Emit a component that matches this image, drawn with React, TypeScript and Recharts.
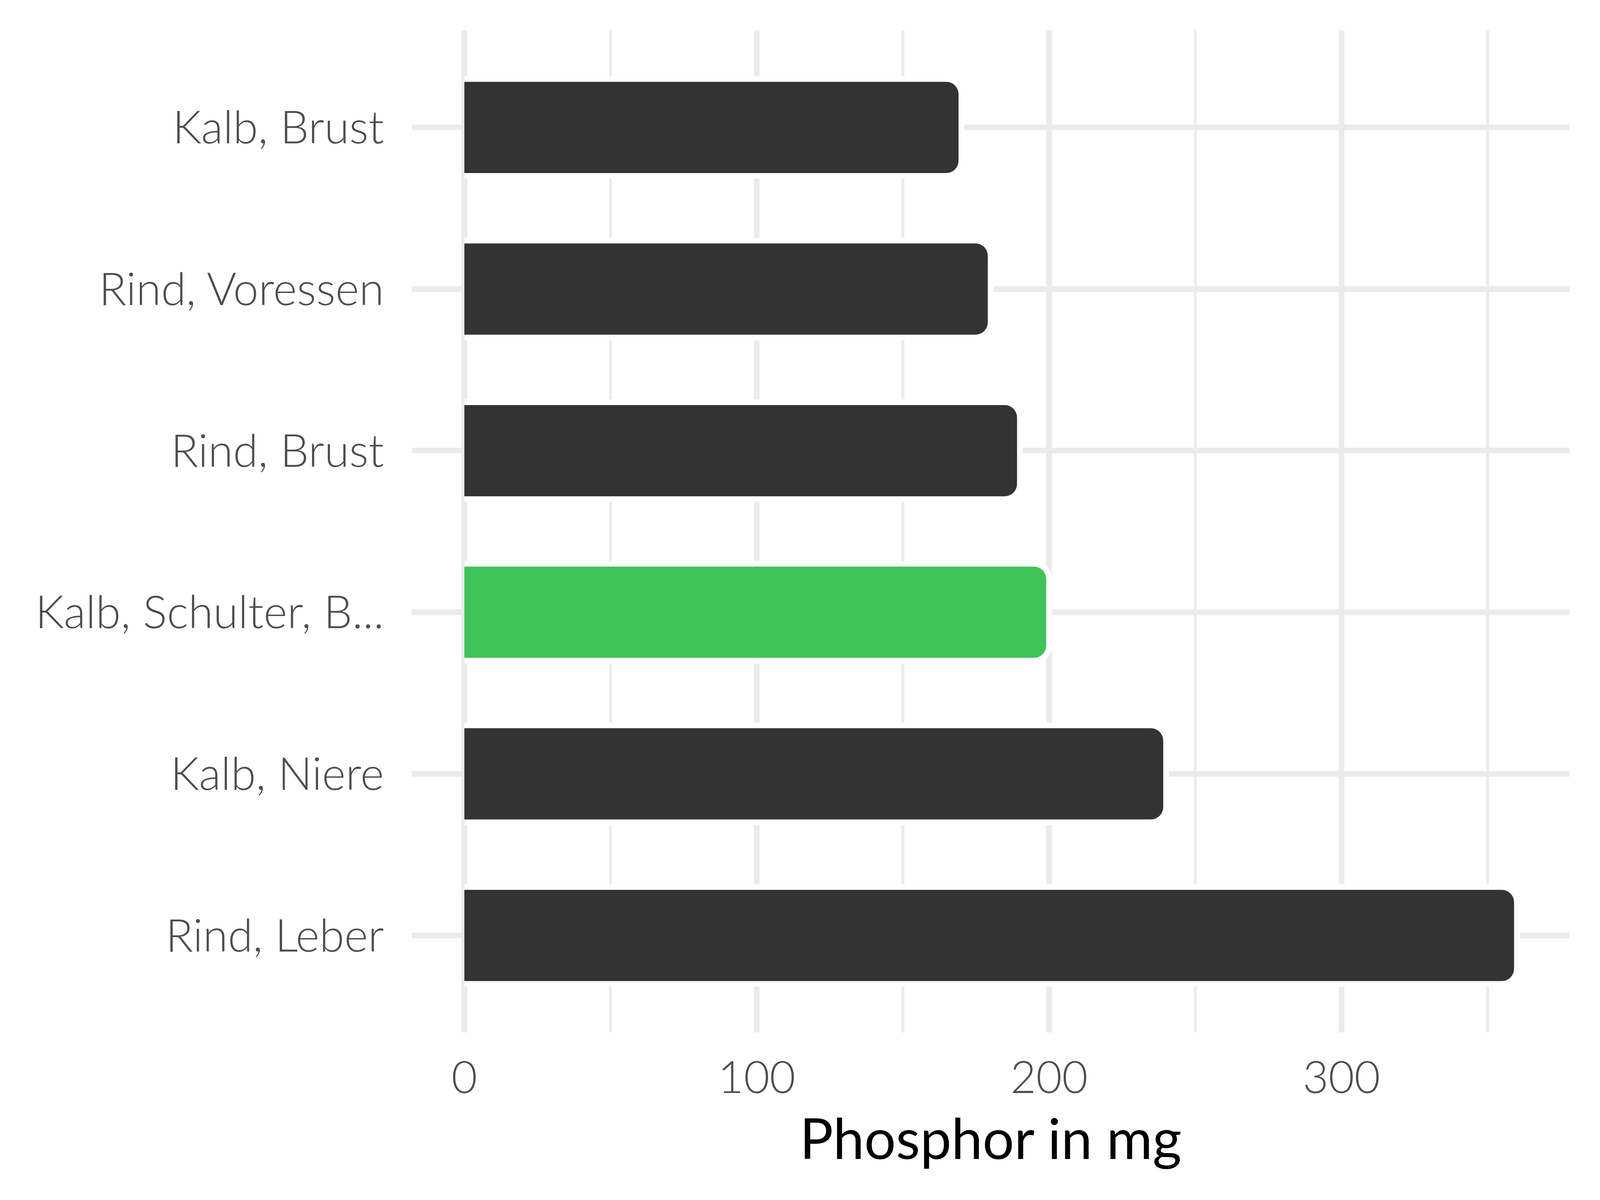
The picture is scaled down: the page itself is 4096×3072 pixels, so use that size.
import React from "react"
import { BarChart, Bar, XAxis, YAxis, CartesianGrid, Cell } from "recharts"

const categories = ["Kalb, Brust", "Rind, Voressen", "Rind, Brust", "Kalb, Schulter, B...", "Kalb, Niere", "Rind, Leber"]
const phosphorValues = [170, 180, 190, 200, 240, 360]
const majorTicks = [0, 100, 200, 300]
const minorTicks = [50, 150, 250, 350]
const highlighted = "Kalb, Schulter, B..."

const chartData = categories.map((name, i) => ({ name, value: phosphorValues[i] }))

const GRID = "#EBEBEB"
const LABEL = "#4D4D4D"
const FONT = "Lato, 'Open Sans', sans-serif"
const HALO = 7.25

function rightRounded(x0: number, y0: number, x1: number, y1: number, r: number) {
  const rr = Math.max(0, Math.min(r, (y1 - y0) / 2, x1 - x0))
  return `M${x0},${y0} L${x1 - rr},${y0} A${rr},${rr} 0 0 1 ${x1},${y0 + rr} L${x1},${y1 - rr} A${rr},${rr} 0 0 1 ${x1 - rr},${y1} L${x0},${y1} Z`
}

// rounded bar with a white halo, like ggchicklet
function ChickletBar(props: any) {
  const { x, y, width, height, fill } = props
  if (width <= 0) return null
  return (
    <g>
      <path d={rightRounded(x, y - HALO, x + width + HALO, y + height + HALO, 46)} fill="#FFFFFF" />
      <path d={rightRounded(x, y + HALO, x + width - HALO, y + height - HALO, 31.6)} fill={fill} />
    </g>
  )
}

export default function App() {
  return (
    <div style={{ width: 4096, height: 3072, background: "#fff" }}>
      <style>{`body{margin:0}`}</style>
      <BarChart
        width={4096}
        height={3072}
        data={chartData}
        layout="vertical"
        margin={{ top: 77.7, right: 78, left: 0, bottom: 207 }}
        barSize={248}
      >
        <CartesianGrid xAxisId="minor" horizontal={false} syncWithTicks stroke={GRID} strokeWidth={7.2} />
        <CartesianGrid syncWithTicks stroke={GRID} strokeWidth={14.5} />
        <XAxis
          type="number"
          domain={[-18, 378]}
          ticks={majorTicks}
          allowDataOverflow
          axisLine={false}
          tickLine={false}
          tickSize={0}
          tickMargin={74}
          height={222}
          tick={{ fill: LABEL, fontSize: 114, fontFamily: FONT, fontWeight: 300 }}
          label={{ value: "Phosphor in mg", position: "bottom", offset: 0, fill: "#000", fontSize: 143, fontFamily: FONT }}
        />
        <XAxis xAxisId="minor" type="number" domain={[-18, 378]} ticks={minorTicks} allowDataOverflow hide />
        <YAxis
          type="category"
          dataKey="name"
          width={1054}
          padding={{ top: 41.5, bottom: 41.5 }}
          axisLine={false}
          tickLine={false}
          tickSize={0}
          tickMargin={71}
          interval={0}
          tick={{ fill: LABEL, fontSize: 116, fontFamily: FONT, fontWeight: 300 }}
        />
        <Bar dataKey="value" isAnimationActive={false} shape={<ChickletBar />}>
          {chartData.map((d) => (
            <Cell key={d.name} fill={d.name === highlighted ? "#40C45A" : "#333333"} />
          ))}
        </Bar>
      </BarChart>
    </div>
  )
}
